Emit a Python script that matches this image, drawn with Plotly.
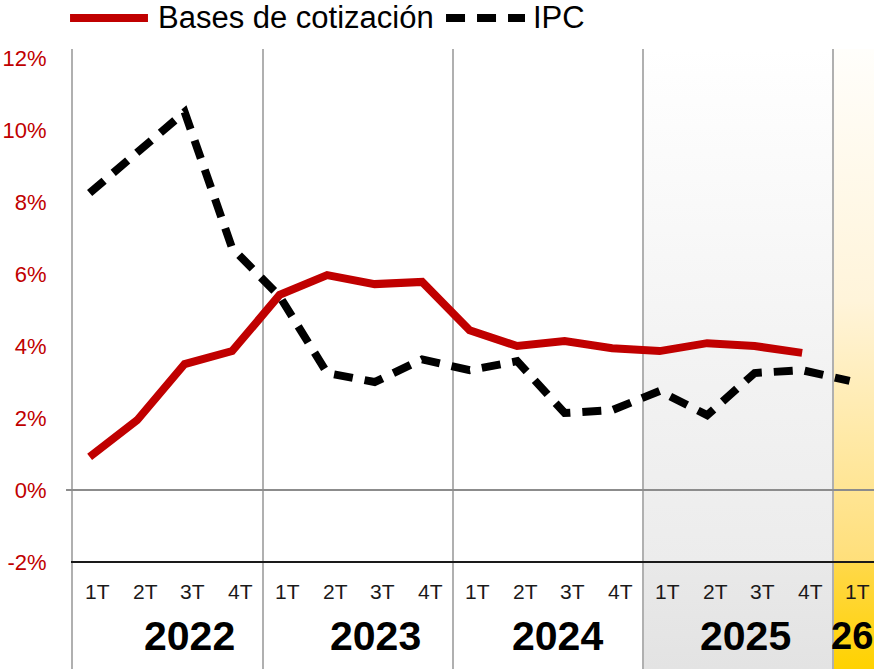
import plotly.graph_objects as go

# Quarterly series, % year-on-year
quarters = ["1T", "2T", "3T", "4T"] * 4 + ["1T"]
years = ["2022", "2023", "2024", "2025", "26"]
bases = [0.92, 1.94, 3.50, 3.86, 5.42, 5.97, 5.72, 5.78,
         4.44, 4.00, 4.14, 3.94, 3.86, 4.08, 4.00, 3.81]
ipc = [8.25, 9.35, 10.50, 6.72, 5.38, 3.25, 3.00, 3.63,
       3.33, 3.58, 2.14, 2.22, 2.75, 2.08, 3.25, 3.33, 3.03]
y_ticks = [-2, 0, 2, 4, 6, 8, 10, 12]
y_tick_text = ["%d%%" % v for v in y_ticks]

RED = "#c00000"
FONT = "Liberation Sans, Arial, sans-serif"

Y_MIN, Y_MAX = -4.97, 12.25
X_MAX = 16.863
PT_OFF = 0.35      # position of a point inside its quarter slot
LBL_OFF = 0.52     # position of a quarter label inside its slot

fig = go.Figure()


def band(x0, x1, y0, y1, scale):
    fig.add_trace(go.Scatter(
        x=[x0, x1, x1, x0, x0], y=[y0, y0, y1, y1, y0],
        mode="lines", line=dict(width=0), fill="toself",
        fillgradient=dict(type="vertical", colorscale=scale),
        hoverinfo="skip", showlegend=False))


# 2025 (grey) and 2026 (yellow) background bands
band(12, 16, -2, Y_MAX, [[0, "#ececec"], [0.4, "#f3f3f3"], [1, "#ffffff"]])
band(12, 16, Y_MIN, -2, [[0, "#e3e3e3"], [1, "#e9e9e9"]])
band(16, 17.2, -2, Y_MAX, [[0, "#ffdf7a"], [0.24, "#ffe9a6"],
                           [0.51, "#fff4da"], [1, "#fffefb"]])
band(16, 17.2, Y_MIN, -2, [[0, "#ffd200"], [1, "#ffd84a"]])

# year separators
sep_x, sep_y = [], []
for k in range(1, len(years)):
    sep_x += [4 * k, 4 * k, None]
    sep_y += [Y_MIN, Y_MAX, None]
fig.add_trace(go.Scatter(x=sep_x, y=sep_y, mode="lines",
                         line=dict(color="#b0b0b0", width=2),
                         hoverinfo="skip", showlegend=False))

fig.add_trace(go.Scatter(
    x=[i + PT_OFF for i in range(len(bases))], y=bases, mode="lines",
    name="Bases de cotización", line=dict(color=RED, width=8),
    showlegend=False))
fig.add_trace(go.Scatter(
    x=[i + PT_OFF for i in range(len(ipc))], y=ipc, mode="lines",
    name="IPC", line=dict(color="#000000", width=8, dash="19px,12px"),
    showlegend=False))

annotations = []
for i, q in enumerate(quarters):
    annotations.append(dict(x=i + LBL_OFF, y=-2.83, text=q, showarrow=False,
                            font=dict(size=21, color="#1a1a1a", family=FONT)))

year_x = [2.46, 6.36, 10.19, 14.15]
for yx, yr in zip(year_x, years[:4]):
    annotations.append(dict(x=yx, y=-4.06, text="<b>%s</b>" % yr,
                            showarrow=False,
                            font=dict(size=41, color="#000000", family=FONT)))
annotations.append(dict(x=1.0, y=-4.06, xref="paper", text="<b>%s</b>" % years[4],
                        xanchor="right", showarrow=False, borderpad=0,
                        font=dict(size=38, color="#000000", family=FONT)))

# legend drawn by hand
LEG_Y = 1 + 31 / 620
annotations += [
    dict(x=0.1035, y=LEG_Y, xref="paper", yref="paper", xanchor="left",
         yanchor="middle", text="Bases de cotización", showarrow=False,
         font=dict(size=31, color="#000000", family=FONT)),
    dict(x=0.5715, y=LEG_Y, xref="paper", yref="paper", xanchor="left",
         yanchor="middle", text="IPC", showarrow=False,
         font=dict(size=31, color="#000000", family=FONT)),
]

shapes = [
    dict(type="line", xref="paper", yref="y", x0=-0.0087, x1=1, y0=0, y1=0,
         line=dict(color="#8c8c8c", width=2), layer="above"),
    dict(type="line", xref="paper", yref="y", x0=-0.0025, x1=1, y0=-2, y1=-2,
         line=dict(color="#1a1a1a", width=2), layer="above"),
    dict(type="line", xref="paper", yref="paper", x0=-0.0037, x1=0.0936,
         y0=LEG_Y, y1=LEG_Y, line=dict(color=RED, width=8)),
    dict(type="line", xref="paper", yref="paper", x0=0.4657, x1=0.5643,
         y0=LEG_Y, y1=LEG_Y, line=dict(color="#000000", width=8, dash="19px,12px")),
]

fig.update_layout(
    width=874, height=669,
    margin=dict(l=73, r=0, t=49, b=0),
    paper_bgcolor="#ffffff", plot_bgcolor="#ffffff",
    showlegend=False,
    annotations=annotations, shapes=shapes,
    xaxis=dict(range=[0, X_MAX], visible=False, fixedrange=True),
    yaxis=dict(range=[Y_MIN, Y_MAX], tickmode="array", tickvals=y_ticks,
               ticktext=y_tick_text,
               showgrid=False, zeroline=False, ticks="",
               showline=True, linecolor="#b0b0b0", linewidth=2,
               ticklabelstandoff=20,
               tickfont=dict(size=22, color=RED, family=FONT)),
)

fig.write_html("out.html")
